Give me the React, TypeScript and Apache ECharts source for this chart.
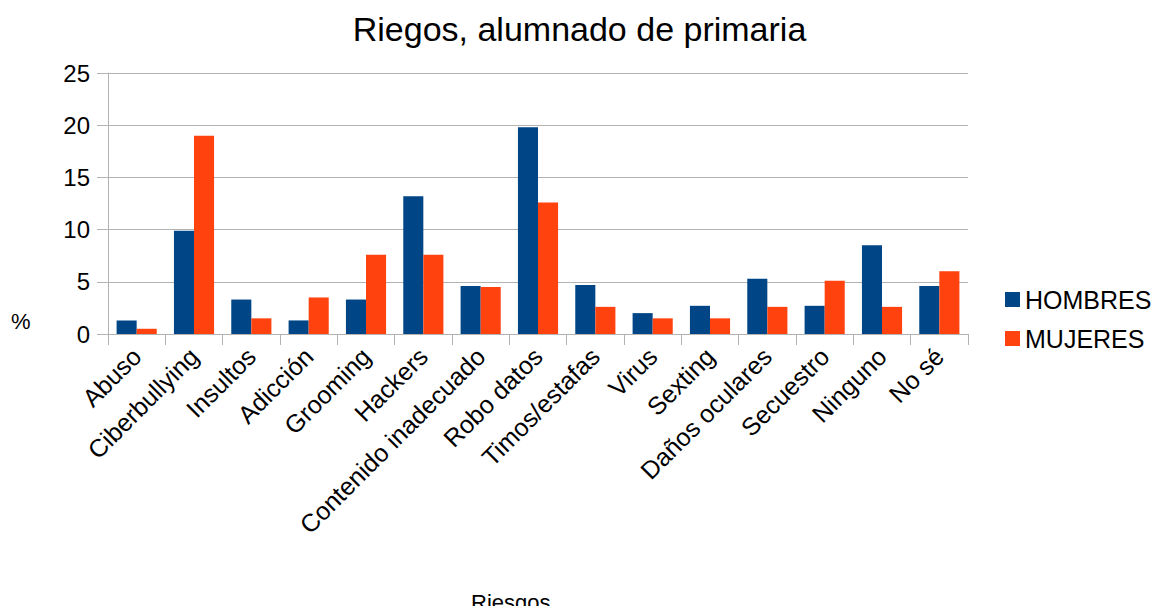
import React, { useEffect, useRef } from "react";
import * as echarts from "echarts";

const categories = [
  "Abuso",
  "Ciberbullying",
  "Insultos",
  "Adicción",
  "Grooming",
  "Hackers",
  "Contenido inadecuado",
  "Robo datos",
  "Timos/estafas",
  "Virus",
  "Sexting",
  "Daños oculares",
  "Secuestro",
  "Ninguno",
  "No sé",
];

const hombres = [1.3, 9.9, 3.3, 1.3, 3.3, 13.2, 4.6, 19.8, 4.7, 2.0, 2.7, 5.3, 2.7, 8.5, 4.6];
const mujeres = [0.5, 19.0, 1.5, 3.5, 7.6, 7.6, 4.5, 12.6, 2.6, 1.5, 1.5, 2.6, 5.1, 2.6, 6.0];

const yTicks = { min: 0, max: 25, interval: 5 };

const FONT = "'Liberation Sans', Arial, sans-serif";

export default function App() {
  const ref = useRef<HTMLDivElement>(null);

  useEffect(() => {
    if (!ref.current) return;
    const chart = echarts.init(ref.current, undefined, { renderer: "svg" });
    chart.setOption({
      animation: false,
      backgroundColor: "#ffffff",
      textStyle: { fontFamily: FONT },
      title: {
        text: "Riegos, alumnado de primaria",
        left: "center",
        top: 7,
        textStyle: { fontFamily: FONT, fontSize: 34, fontWeight: "normal", color: "#000" },
      },
      legend: {
        orient: "vertical",
        left: 1000,
        top: 282,
        itemWidth: 15,
        itemHeight: 15,
        itemGap: 14,
        icon: "rect",
        textStyle: { fontFamily: FONT, fontSize: 25, color: "#000" },
        data: ["HOMBRES", "MUJERES"],
      },
      grid: { left: 108, right: 191, top: 73, bottom: 280, containLabel: false },
      xAxis: {
        type: "category",
        data: categories,
        boundaryGap: true,
        axisLine: { show: true, lineStyle: { color: "#b3b3b3", width: 1 } },
        axisTick: { show: true, length: 11, lineStyle: { color: "#b3b3b3" } },
        axisLabel: {
          rotate: 45,
          interval: 0,
          margin: 18,
          fontFamily: FONT,
          fontSize: 25,
          color: "#000",
        },
        splitLine: { show: false },
      },
      yAxis: {
        type: "value",
        min: yTicks.min,
        max: yTicks.max,
        interval: yTicks.interval,
        axisLine: { show: true, lineStyle: { color: "#b3b3b3", width: 1 } },
        axisTick: { show: true, length: 11, lineStyle: { color: "#b3b3b3" } },
        axisLabel: { margin: 18, fontFamily: FONT, fontSize: 24, color: "#000" },
        splitLine: { show: true, lineStyle: { color: "#b3b3b3", width: 1 } },
      },
      graphic: [
        {
          type: "text",
          left: 11,
          top: 310,
          style: { text: "%", fontFamily: FONT, fontSize: 22, fill: "#000" },
        },
        {
          type: "text",
          left: 471,
          top: 591,
          style: { text: "Riesgos", fontFamily: FONT, fontSize: 22, fill: "#000" },
        },
      ],
      series: [
        {
          name: "HOMBRES",
          type: "bar",
          data: hombres,
          itemStyle: { color: "#004586" },
          barGap: "0%",
          barCategoryGap: "30%",
        },
        {
          name: "MUJERES",
          type: "bar",
          data: mujeres,
          itemStyle: { color: "#ff420e" },
          barGap: "0%",
          barCategoryGap: "30%",
        },
      ],
    });
    return () => chart.dispose();
  }, []);

  return <div ref={ref} style={{ width: 1159, height: 614, margin: -8 }} />;
}
